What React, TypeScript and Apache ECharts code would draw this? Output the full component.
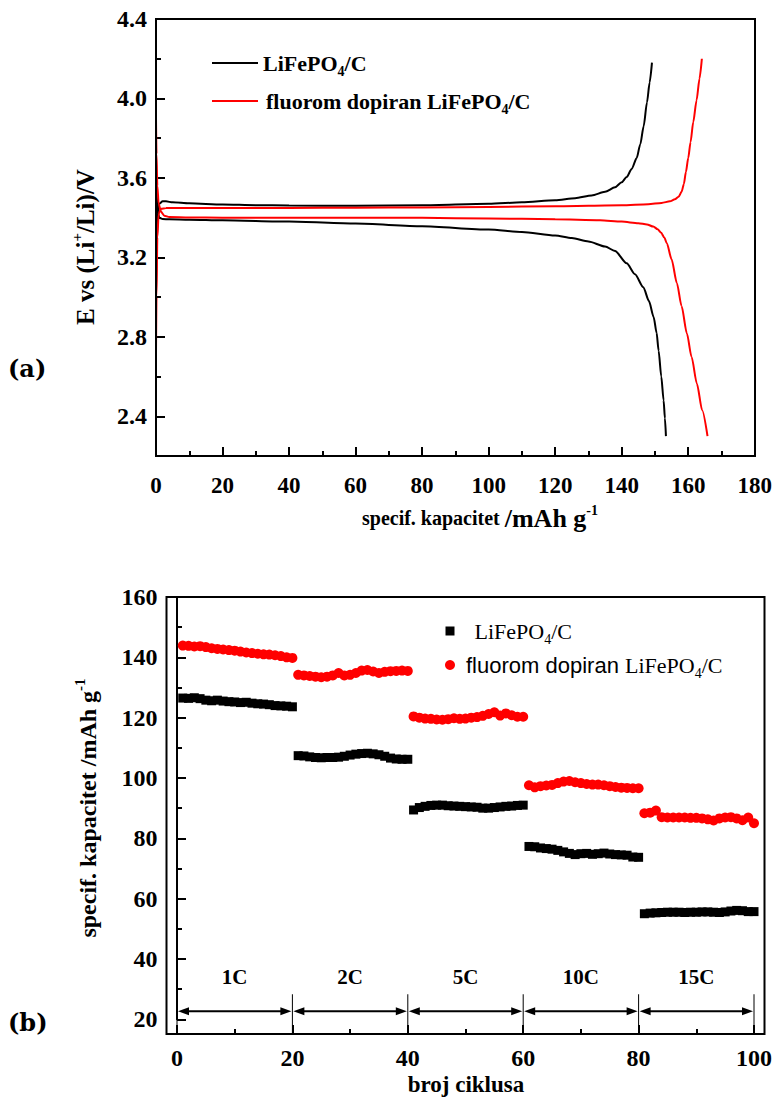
import React, { useEffect, useRef } from 'react';
import * as echarts from 'echarts';

// ---------- (a) charge / discharge curves ----------
const lfpChargeCap = [0, 0.2, 0.5, 1.0, 2.0, 3.0, 5.0, 10, 20, 30, 40, 60, 80, 100, 110, 120, 126, 131, 135, 138, 140, 141.5, 143, 144.5, 145.6, 146.6, 147.6, 148.4, 149.1];
const lfpChargeV = [3.02, 3.25, 3.42, 3.47, 3.482, 3.482, 3.477, 3.472, 3.466, 3.463, 3.461, 3.46, 3.462, 3.47, 3.477, 3.488, 3.498, 3.512, 3.53, 3.553, 3.578, 3.605, 3.645, 3.7, 3.77, 3.86, 3.98, 4.08, 4.18];

const lfpDischargeCap = [0, 0.2, 0.5, 1.0, 2.0, 4, 10, 20, 40, 60, 80, 100, 110, 120, 125, 130, 135, 138, 141.5, 144, 146.5, 148.2, 149.6, 150.5, 151.1, 151.9, 152.6, 153.0, 153.3];
const lfpDischargeV = [3.64, 3.52, 3.43, 3.4, 3.393, 3.392, 3.39, 3.387, 3.38, 3.37, 3.357, 3.34, 3.328, 3.31, 3.297, 3.28, 3.255, 3.232, 3.17, 3.115, 3.05, 2.98, 2.9, 2.82, 2.73, 2.6, 2.48, 2.39, 2.3];

const fChargeCap = [0, 0.15, 0.4, 0.8, 1.5, 3, 10, 20, 40, 60, 80, 100, 120, 140, 148, 152, 154.5, 156, 157.1, 158, 158.7, 159.3, 160, 160.7, 161.5, 162.5, 163.4, 164.1];
const fChargeV = [2.72, 3.0, 3.3, 3.42, 3.445, 3.448, 3.449, 3.449, 3.449, 3.45, 3.451, 3.454, 3.457, 3.462, 3.468, 3.474, 3.482, 3.492, 3.505, 3.53, 3.57, 3.63, 3.7, 3.78, 3.88, 3.99, 4.1, 4.2];

const fDischargeCap = [0, 0.15, 0.4, 0.8, 1.5, 2.5, 4, 10, 20, 40, 60, 80, 100, 120, 133.5, 140, 145, 147.6, 149.5, 150.8, 151.8, 152.8, 153.6, 155, 156.6, 158, 159.6, 161, 162.6, 164.2, 165.8];
const fDischargeV = [3.9, 3.72, 3.56, 3.47, 3.43, 3.41, 3.403, 3.401, 3.4, 3.4, 3.4, 3.399, 3.396, 3.392, 3.387, 3.38, 3.372, 3.366, 3.355, 3.342, 3.325, 3.3, 3.27, 3.19, 3.07, 2.955, 2.817, 2.7, 2.565, 2.43, 2.3];

// ---------- (b) rate capability ----------
const lfpRateCapacity = [
  126.5, 126.4, 126.6, 126.3, 125.8, 125.6, 125.8, 125.5, 125.3, 125.2, 125.0, 125.1, 124.8, 124.6, 124.5, 124.3, 124.0, 123.9, 123.8, 123.6,
  107.4, 107.3, 107.0, 106.8, 106.7, 106.8, 106.8, 106.9, 107.2, 107.6, 107.9, 108.1, 108.2, 108.0, 107.7, 107.2, 106.6, 106.3, 106.2, 106.2,
  89.4, 90.2, 90.6, 90.9, 91.0, 91.0, 90.8, 90.7, 90.6, 90.5, 90.4, 90.3, 90.0, 90.0, 90.2, 90.4, 90.6, 90.7, 90.9, 91.0,
  77.3, 77.2, 76.8, 76.6, 76.4, 76.0, 75.5, 75.0, 74.6, 74.9, 75.0, 74.7, 74.9, 75.1, 74.8, 74.6, 74.5, 74.4, 73.8, 73.7,
  55.0, 55.2, 55.3, 55.4, 55.5, 55.5, 55.5, 55.4, 55.5, 55.5, 55.6, 55.6, 55.5, 55.4, 55.6, 55.9, 56.1, 56.0, 55.7, 55.7,
];
const fRateCapacity = [
  143.9, 143.8, 143.6, 143.7, 143.4, 143.0, 142.8, 142.6, 142.4, 142.2, 141.9, 141.6, 141.4, 141.2, 141.0, 140.9, 140.7, 140.4, 140.0, 139.8,
  134.2, 134.0, 133.8, 133.6, 133.4, 133.6, 134.0, 134.8, 134.0, 134.2, 134.8, 135.6, 135.8, 135.3, 134.8, 135.2, 135.4, 135.5, 135.6, 135.5,
  120.4, 120.0, 119.7, 119.6, 119.4, 119.3, 119.5, 119.8, 119.6, 119.7, 120.0, 120.2, 120.6, 121.2, 121.8, 120.7, 121.4, 120.8, 120.3, 120.3,
  97.6, 96.9, 97.3, 97.5, 97.7, 98.3, 98.8, 99.0, 98.6, 98.3, 98.0, 97.8, 97.8, 97.6, 97.3, 97.0, 96.8, 96.7, 96.6, 96.6,
  88.3, 88.5, 89.2, 87.0, 86.9, 86.9, 86.9, 86.9, 86.8, 86.8, 86.6, 86.3, 85.9, 86.6, 86.9, 87.0, 86.6, 86.0, 86.9, 85.0,
];
const rateBounds = [0, 20, 40, 60, 80, 100];
const rateLabels = ['1C', '2C', '5C', '10C', '15C'];
const rateArrowLevel = 22.7;
const rateLabelLevel = 34;
const rateTickTop = 28.3;
const rateTickBottom = 15;

const SERIF = '"Liberation Serif", "Times New Roman", serif';
const SANS = '"Liberation Sans", Arial, sans-serif';

const pairs = (xs: number[], ys: number[]) => xs.map((x, i) => [x, ys[i]]);
const byCycle = (ys: number[]) => ys.map((y, i) => [i + 1, y]);

const NAME_A1 = 'LiFePO4/C';
const NAME_A2 = 'fluorom dopiran LiFePO4/C';
const NAME_B1 = 'LiFePO4/C (b)';
const NAME_B2 = 'fluorom dopiran LiFePO4/C (b)';

export default function App() {
  const ref = useRef<HTMLDivElement>(null);
  useEffect(() => {
    document.body.style.margin = '0';
    const chart = echarts.init(ref.current!, undefined, { renderer: 'svg' });

    const axisCommon = {
      axisLine: { show: true, lineStyle: { color: '#000', width: 2 } },
      axisTick: { show: true, inside: true, length: 9, lineStyle: { color: '#000', width: 2 } },
      minorTick: { show: true, splitNumber: 2, length: 5, lineStyle: { color: '#000', width: 2 } },
      splitLine: { show: false },
      minorSplitLine: { show: false },
    };

    const legendRich = {
      tb: { fontFamily: SERIF, fontWeight: 'bold', fontSize: 22, color: '#000', lineHeight: 30 },
      tbs: { fontFamily: SERIF, fontWeight: 'bold', fontSize: 14, color: '#000', lineHeight: 16, verticalAlign: 'bottom' },
      tn: { fontFamily: SERIF, fontSize: 22, color: '#000', lineHeight: 30 },
      tns: { fontFamily: SERIF, fontSize: 14, color: '#000', lineHeight: 16, verticalAlign: 'bottom' },
      sn: { fontFamily: SANS, fontSize: 22, color: '#000', lineHeight: 30 },
      g3: { width: 3, lineHeight: 30 },
      g15: { width: 15, lineHeight: 30 },
      g6: { width: 6, lineHeight: 30 },
    };

    const option: any = {
      animation: false,
      backgroundColor: '#fff',
      grid: [
        { left: 156, top: 19, width: 599, height: 397.3 },
        { left: 177, top: 597, width: 578, height: 422.3 },
      ],
      xAxis: [
        {
          ...axisCommon, gridIndex: 0, type: 'value', min: 0, max: 180, interval: 20, offset: 39.7,
          axisLabel: { fontFamily: SERIF, fontWeight: 'bold', fontSize: 23, color: '#000', margin: 18 },
        },
        {
          ...axisCommon, gridIndex: 1, type: 'value', min: 0, max: 100, interval: 20, offset: 14.7,
          axisLabel: { fontFamily: SERIF, fontWeight: 'bold', fontSize: 24, color: '#000', margin: 12 },
        },
      ],
      yAxis: [
        {
          ...axisCommon, gridIndex: 0, type: 'value', min: 2.4, max: 4.4, interval: 0.4,
          axisLabel: { fontFamily: SERIF, fontWeight: 'bold', fontSize: 24, color: '#000', margin: 9, formatter: (v: number) => v.toFixed(1) },
        },
        {
          ...axisCommon, gridIndex: 1, type: 'value', min: 20, max: 160, interval: 20, offset: 10.5,
          axisLabel: { fontFamily: SERIF, fontWeight: 'bold', fontSize: 24, color: '#000', margin: 9 },
        },
      ],
      legend: [
        {
          data: [NAME_A1], left: 207, top: 47, icon: 'rect', itemWidth: 46, itemHeight: 2, selectedMode: false,
          formatter: () => '{tb|LiFePO}{tbs|4}{tb|/C}', textStyle: { rich: legendRich },
        },
        {
          data: [NAME_A2], left: 207, top: 85, icon: 'rect', itemWidth: 46, itemHeight: 2, selectedMode: false,
          formatter: () => '{g3| }{tb|fluorom dopiran LiFePO}{tbs|4}{tb|/C}', textStyle: { rich: legendRich },
        },
        {
          data: [NAME_B1], left: 440.5, top: 615, itemWidth: 9, itemHeight: 9, selectedMode: false,
          formatter: () => '{g15| }{tn|LiFePO}{tns|4}{tn|/C}', textStyle: { rich: legendRich },
        },
        {
          data: [NAME_B2], left: 440, top: 649, itemWidth: 10, itemHeight: 10, selectedMode: false,
          formatter: () => '{g6| }{sn|fluorom dopiran }{tn|LiFePO}{tns|4}{tn|/C}', textStyle: { rich: legendRich },
        },
      ],
      series: [
        {
          name: NAME_A1, type: 'line', xAxisIndex: 0, yAxisIndex: 0, data: pairs(lfpChargeCap, lfpChargeV),
          symbol: 'none', showSymbol: false, clip: false, smooth: 0.25, smoothMonotone: 'x',
          lineStyle: { color: '#000', width: 2 }, itemStyle: { color: '#000' },
        },
        {
          name: NAME_A1, type: 'line', xAxisIndex: 0, yAxisIndex: 0, data: pairs(lfpDischargeCap, lfpDischargeV),
          symbol: 'none', showSymbol: false, clip: false, smooth: 0.25, smoothMonotone: 'x',
          lineStyle: { color: '#000', width: 2 }, itemStyle: { color: '#000' },
        },
        {
          name: NAME_A2, type: 'line', xAxisIndex: 0, yAxisIndex: 0, data: pairs(fChargeCap, fChargeV),
          symbol: 'none', showSymbol: false, clip: false, smooth: 0.25, smoothMonotone: 'x',
          lineStyle: { color: '#ff0000', width: 2 }, itemStyle: { color: '#ff0000' },
        },
        {
          name: NAME_A2, type: 'line', xAxisIndex: 0, yAxisIndex: 0, data: pairs(fDischargeCap, fDischargeV),
          symbol: 'none', showSymbol: false, clip: false, smooth: 0.25, smoothMonotone: 'x',
          lineStyle: { color: '#ff0000', width: 2 }, itemStyle: { color: '#ff0000' },
        },
        {
          name: NAME_B1, type: 'scatter', xAxisIndex: 1, yAxisIndex: 1, data: byCycle(lfpRateCapacity),
          symbol: 'rect', symbolSize: 9, itemStyle: { color: '#000', opacity: 1 },
        },
        {
          name: NAME_B2, type: 'scatter', xAxisIndex: 1, yAxisIndex: 1, data: byCycle(fRateCapacity),
          symbol: 'circle', symbolSize: 10, itemStyle: { color: '#ff0000', opacity: 1 },
        },
        {
          name: 'rates', type: 'custom', xAxisIndex: 1, yAxisIndex: 1, clip: false, silent: true,
          data: rateLabels.map((_, i) => [rateBounds[i], rateBounds[i + 1]]),
          renderItem: (params: any, api: any) => {
            const i = params.dataIndex;
            const x0 = rateBounds[i];
            const x1 = rateBounds[i + 1];
            const a0 = api.coord([x0, rateArrowLevel]);
            const a1 = api.coord([x1, rateArrowLevel]);
            const tTop = api.coord([x0, rateTickTop])[1];
            const tBot = api.coord([x0, rateTickBottom])[1];
            const lbl = api.coord([(x0 + x1) / 2, rateLabelLevel]);
            const y = a0[1];
            const hl = 11, hw = 4;
            const l = a0[0] + 1, r = a1[0] - 1;
            const children: any[] = [
              { type: 'line', shape: { x1: a0[0], y1: tBot, x2: a0[0], y2: tTop }, style: { stroke: '#000', lineWidth: 1 } },
              { type: 'line', shape: { x1: l + hl - 2, y1: y, x2: r - hl + 2, y2: y }, style: { stroke: '#000', lineWidth: 2 } },
              { type: 'polygon', shape: { points: [[l, y], [l + hl, y - hw], [l + hl, y + hw]] }, style: { fill: '#000' } },
              { type: 'polygon', shape: { points: [[r, y], [r - hl, y - hw], [r - hl, y + hw]] }, style: { fill: '#000' } },
              {
                type: 'text', x: lbl[0], y: lbl[1],
                style: { text: rateLabels[i], fill: '#000', font: `bold 21px ${SERIF}`, align: 'center', verticalAlign: 'middle' },
              },
            ];
            if (i === rateLabels.length - 1) {
              children.push({ type: 'line', shape: { x1: a1[0], y1: tBot, x2: a1[0], y2: tTop }, style: { stroke: '#000', lineWidth: 1 } });
            }
            return { type: 'group', children };
          },
        },
      ],
      graphic: [
        // plot frames
        { type: 'rect', shape: { x: 156, y: 19, width: 599, height: 437 }, style: { fill: 'none', stroke: '#000', lineWidth: 2 }, z: 10, silent: true },
        { type: 'rect', shape: { x: 166.5, y: 597, width: 598, height: 437 }, style: { fill: 'none', stroke: '#000', lineWidth: 2 }, z: 10, silent: true },
        // panel letters
        { type: 'text', left: 8, top: 356, style: { text: '(a)', font: `bold 24px "DejaVu Serif", serif`, fill: '#000' } },
        { type: 'text', left: 8, top: 1010, style: { text: '(b)', font: `bold 24px "DejaVu Serif", serif`, fill: '#000' } },
        // (a) axis titles
        {
          type: 'text', x: 480, y: 518,
          style: {
            text: '{a|specif. kapacitet }{b|/mAh g}{sup|-1}', align: 'center', verticalAlign: 'middle',
            rich: {
              a: { fontFamily: SERIF, fontWeight: 'bold', fontSize: 20, fill: '#000', lineHeight: 30 },
              b: { fontFamily: SERIF, fontWeight: 'bold', fontSize: 26, fill: '#000', lineHeight: 30 },
              sup: { fontFamily: SERIF, fontWeight: 'bold', fontSize: 14, fill: '#000', lineHeight: 16, verticalAlign: 'top' },
            },
          },
        },
        {
          type: 'text', x: 85, y: 247, rotation: Math.PI / 2,
          style: {
            text: '{a|E vs (Li}{sup|+}{a|/Li)/V}', align: 'center', verticalAlign: 'middle',
            rich: {
              a: { fontFamily: SERIF, fontWeight: 'bold', fontSize: 25, fill: '#000', lineHeight: 32 },
              sup: { fontFamily: SERIF, fontWeight: 'bold', fontSize: 15, fill: '#000', lineHeight: 17, verticalAlign: 'top' },
            },
          },
        },
        // (b) axis titles
        {
          type: 'text', x: 466, y: 1084,
          style: { text: 'broj ciklusa', font: `bold 23px ${SERIF}`, fill: '#000', align: 'center', verticalAlign: 'middle' },
        },
        {
          type: 'text', x: 88, y: 808, rotation: Math.PI / 2,
          style: {
            text: '{a|specif. kapacitet /mAh g}{sup|-1}', align: 'center', verticalAlign: 'middle',
            rich: {
              a: { fontFamily: SERIF, fontWeight: 'bold', fontSize: 24, fill: '#000', lineHeight: 32 },
              sup: { fontFamily: SERIF, fontWeight: 'bold', fontSize: 15, fill: '#000', lineHeight: 17, verticalAlign: 'top' },
            },
          },
        },
      ],
    };

    chart.setOption(option);
    return () => chart.dispose();
  }, []);

  return <div ref={ref} style={{ width: 775, height: 1101 }} />;
}
